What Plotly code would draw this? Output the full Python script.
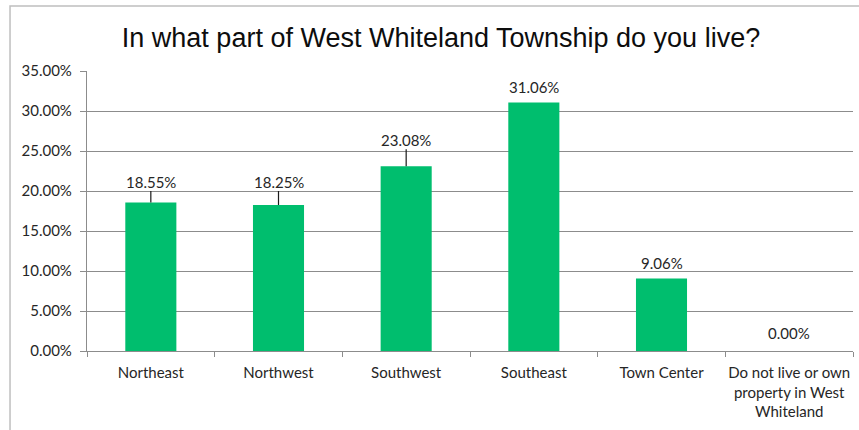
import plotly.graph_objects as go

# Survey responses: share of respondents by part of the township
categories = [
    "Northeast",
    "Northwest",
    "Southwest",
    "Southeast",
    "Town Center",
    "Do not live or own<br>property in West<br>Whiteland",
]
shares = [18.55, 18.25, 23.08, 31.06, 9.06, 0.00]
y_ticks = [0, 5, 10, 15, 20, 25, 30, 35]
y_tick_labels = [f"{v:.2f}%" for v in y_ticks]

# label placement: pixel lift above the bar top, and whether a leader line is drawn
label_lift = [21, 23.5, 26.5, 16, 16, 18]
label_leader = [True, True, True, False, False, False]

BAR = "#00BE6E"
GRID = "#8c8c8c"
TEXT = "#262626"
FONT = "Lato, 'Open Sans', sans-serif"
FS = 15

fig = go.Figure(
    go.Bar(
        x=categories,
        y=shares,
        marker=dict(color=BAR, line=dict(width=0)),
        hoverinfo="skip",
    )
)

for cat, val, lift, leader in zip(categories, shares, label_lift, label_leader):
    if leader:
        fig.add_annotation(
            x=cat, y=val, text=f"{val:.2f}%",
            showarrow=True, arrowhead=0, arrowwidth=1.2, arrowcolor="#1a1a1a",
            standoff=0, ax=0, ay=-lift, borderpad=0,
            font=dict(family=FONT, size=FS, color=TEXT),
        )
    else:
        fig.add_annotation(
            x=cat, y=val, text=f"{val:.2f}%",
            showarrow=False, yanchor="middle", yshift=lift,
            font=dict(family=FONT, size=FS, color=TEXT),
        )

# outer chart frame (open on the right and bottom edges of the page)
fig.add_shape(
    type="rect", xref="paper", yref="paper",
    x0=-0.1005, x1=1.2, y0=-0.6, y1=1.232,
    line=dict(color="#bfbfbf", width=1.5), fillcolor="rgba(0,0,0,0)",
    layer="below",
)

fig.update_layout(
    width=859, height=430,
    margin=dict(l=87, r=6, t=71, b=79),
    paper_bgcolor="white", plot_bgcolor="white",
    bargap=0.6,
    showlegend=False,
    title=dict(
        text="In what part of West Whiteland Township do you live?",
        x=441 / 859, xanchor="center",
        y=1 - 38 / 430, yanchor="middle", yref="container",
        font=dict(family="'Liberation Sans', Arial, sans-serif", size=27, color="#0d0d0d"),
    ),
    font=dict(family=FONT, size=FS, color=TEXT),
    xaxis=dict(
        type="category",
        automargin=False,
        tickangle=0,
        showline=True, linecolor=GRID, linewidth=1.2,
        ticks="outside", tickson="boundaries", ticklen=5, tickcolor=GRID, tickwidth=1.2,
        ticklabelstandoff=8,
        showgrid=False,
        tickfont=dict(family=FONT, size=FS, color=TEXT),
        fixedrange=True,
    ),
    yaxis=dict(
        range=[0, 35],
        automargin=False,
        tickvals=y_ticks, ticktext=y_tick_labels,
        showline=True, linecolor=GRID, linewidth=1.2,
        ticks="outside", ticklen=6, tickcolor=GRID, tickwidth=1.2,
        ticklabelstandoff=5,
        showgrid=True, gridcolor=GRID, gridwidth=1.2,
        zeroline=False,
        tickfont=dict(family=FONT, size=FS, color=TEXT),
        fixedrange=True,
    ),
)

fig.write_html("out.html")
